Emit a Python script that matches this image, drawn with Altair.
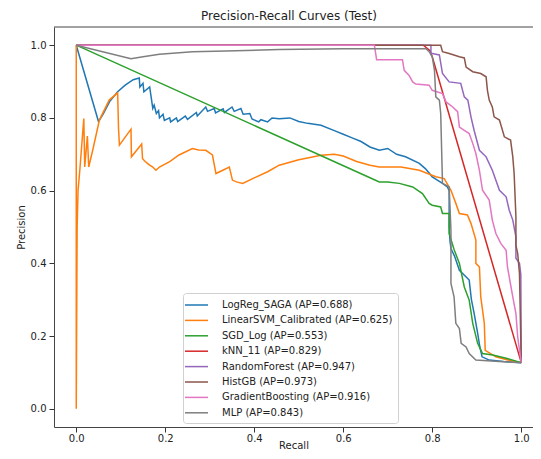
import altair as alt
import pandas as pd

models = [
    "LogReg_SAGA (AP=0.688)",
    "LinearSVM_Calibrated (AP=0.625)",
    "SGD_Log (AP=0.553)",
    "kNN_11 (AP=0.829)",
    "RandomForest (AP=0.947)",
    "HistGB (AP=0.973)",
    "GradientBoosting (AP=0.916)",
    "MLP (AP=0.843)",
]
colors = ["#1f77b4", "#ff7f0e", "#2ca02c", "#d62728",
          "#9467bd", "#8c564b", "#e377c2", "#7f7f7f"]

logreg_r = [0, 0.05, 0.06, 0.075, 0.093, 0.11, 0.128, 0.1416, 0.143, 0.150, 0.152, 0.165, 0.168, 0.172,
            0.175, 0.18, 0.185, 0.187, 0.195, 0.198, 0.21, 0.212, 0.225, 0.228, 0.245, 0.25, 0.27, 0.272,
            0.291, 0.295, 0.31, 0.313, 0.33, 0.333, 0.35, 0.355, 0.37, 0.375, 0.39, 0.395, 0.41, 0.415,
            0.43, 0.44, 0.456, 0.48, 0.50, 0.52, 0.55, 0.58, 0.60, 0.62, 0.64, 0.66, 0.681, 0.70, 0.72,
            0.74, 0.771, 0.785, 0.80, 0.823, 0.834, 0.838, 0.838, 0.84, 0.842, 0.85, 0.861, 0.87, 0.883,
            0.888, 0.894, 0.902, 0.907, 0.912, 0.928, 0.96, 1.0]
logreg_p = [1.0, 0.79, 0.81, 0.845, 0.872, 0.89, 0.905, 0.910, 0.885, 0.895, 0.872, 0.885, 0.86, 0.826,
            0.835, 0.812, 0.82, 0.80, 0.81, 0.793, 0.80, 0.789, 0.80, 0.79, 0.805, 0.796, 0.815, 0.805,
            0.830, 0.818, 0.826, 0.814, 0.825, 0.815, 0.83, 0.818, 0.826, 0.81, 0.812, 0.797, 0.789, 0.795,
            0.789, 0.80, 0.798, 0.80, 0.79, 0.785, 0.78, 0.765, 0.755, 0.745, 0.735, 0.72, 0.711, 0.716, 0.70,
            0.693, 0.675, 0.66, 0.638, 0.62, 0.61, 0.60, 0.50, 0.46, 0.441, 0.42, 0.381, 0.37, 0.354,
            0.30, 0.263, 0.208, 0.17, 0.143, 0.134, 0.13, 0.127]

svm_r = [0, 0, 0.002, 0.004, 0.008, 0.012, 0.017, 0.019, 0.025, 0.028, 0.037, 0.052, 0.074, 0.093, 0.095,
         0.097, 0.123, 0.124, 0.147, 0.149, 0.155, 0.160, 0.165, 0.172, 0.179, 0.187, 0.21, 0.231, 0.261,
         0.275, 0.291, 0.306, 0.314, 0.344, 0.351, 0.36, 0.374, 0.40, 0.43, 0.456, 0.50, 0.55, 0.58, 0.60,
         0.63, 0.66, 0.681, 0.73, 0.771, 0.808, 0.827, 0.842, 0.853, 0.861, 0.879, 0.887, 0.898, 0.898,
         0.906, 0.909, 0.917, 0.919, 0.943, 0.97, 1.0]
svm_p = [1.0, 0.0, 0.5, 0.6, 0.656, 0.72, 0.798, 0.665, 0.750, 0.665, 0.711, 0.794, 0.849, 0.869, 0.771,
         0.725, 0.769, 0.693, 0.728, 0.688, 0.68, 0.675, 0.67, 0.665, 0.656, 0.665, 0.68, 0.698, 0.716,
         0.712, 0.711, 0.698, 0.647, 0.665, 0.629, 0.624, 0.620, 0.635, 0.652, 0.670, 0.685, 0.697, 0.70, 0.695,
         0.68, 0.67, 0.665, 0.665, 0.656, 0.638, 0.633, 0.601, 0.565, 0.537, 0.533, 0.510, 0.464, 0.40,
         0.39, 0.308, 0.235, 0.161, 0.143, 0.134, 0.127]

sgd_r = [0, 0.67, 0.681, 0.70, 0.726, 0.756, 0.778, 0.793, 0.80, 0.819, 0.823, 0.838, 0.838, 0.849, 0.861,
         0.872, 0.883, 0.891, 0.902, 0.913, 0.936, 0.966, 1.0]
sgd_p = [1.0, 0.63, 0.624, 0.624, 0.620, 0.610, 0.592, 0.565, 0.56, 0.555, 0.537, 0.537, 0.482, 0.438, 0.40,
         0.335, 0.299, 0.235, 0.180, 0.152, 0.148, 0.139, 0.127]

knn_r = [0, 0.78, 0.795, 0.80, 1.0]
knn_p = [1.0, 1.0, 0.985, 0.968, 0.127]

rf_r = [0, 0.797, 0.797, 0.80, 0.816, 0.823, 0.838, 0.864, 0.872, 0.880, 0.887, 0.894, 0.906, 0.921, 0.935,
        0.951, 0.966, 0.973, 0.981, 0.988, 0.988, 0.996, 0.999, 1.0]
rf_p = [1.0, 1.0, 0.977, 0.977, 0.973, 0.922, 0.899, 0.895, 0.858, 0.849, 0.803, 0.766, 0.711, 0.693, 0.656,
        0.601, 0.583, 0.546, 0.519, 0.473, 0.414, 0.40, 0.37, 0.127]

hgb_r = [0, 0.819, 0.823, 0.838, 0.861, 0.872, 0.876, 0.891, 0.909, 0.921, 0.924, 0.928, 0.935, 0.939, 0.951,
         0.962, 0.976, 0.981, 0.984, 0.988, 0.988, 0.992, 0.996, 1.0]
hgb_p = [1.0, 1.0, 0.982, 0.977, 0.968, 0.965, 0.940, 0.927, 0.922, 0.913, 0.876, 0.849, 0.830, 0.803, 0.794,
         0.748, 0.739, 0.693, 0.647, 0.528, 0.45, 0.427, 0.372, 0.127]

gb_r = [0, 0.67, 0.675, 0.733, 0.737, 0.748, 0.756, 0.763, 0.793, 0.80, 0.823, 0.831, 0.846, 0.857, 0.861,
        0.872, 0.883, 0.891, 0.898, 0.906, 0.913, 0.928, 0.935, 0.943, 0.954, 0.966, 0.969, 0.977, 0.981,
        0.988, 0.992, 0.996, 1.0]
gb_p = [1.0, 1.0, 0.96, 0.96, 0.931, 0.917, 0.899, 0.893, 0.89, 0.876, 0.867, 0.844, 0.830, 0.817, 0.775,
        0.766, 0.757, 0.730, 0.702, 0.656, 0.601, 0.574, 0.519, 0.482, 0.455, 0.436, 0.39, 0.335, 0.308,
        0.262, 0.198, 0.161, 0.127]

mlp_r = [0, 0.123, 0.15, 0.187, 0.261, 0.336, 0.456, 0.6, 0.786, 0.793, 0.80, 0.805, 0.808, 0.816, 0.819,
         0.823, 0.831, 0.838, 0.842, 0.842, 0.849, 0.853, 0.861, 0.865, 0.876, 0.883, 0.898, 0.95, 1.0]
mlp_p = [1.0, 0.963, 0.968, 0.975, 0.982, 0.984, 0.988, 0.99, 0.99, 0.982, 0.968, 0.931, 0.858, 0.849, 0.812,
         0.62, 0.615, 0.61, 0.491, 0.345, 0.308, 0.235, 0.221, 0.180, 0.170, 0.152, 0.134, 0.13, 0.127]

series = [
    (models[0], logreg_r, logreg_p),
    (models[1], svm_r, svm_p),
    (models[2], sgd_r, sgd_p),
    (models[3], knn_r, knn_p),
    (models[4], rf_r, rf_p),
    (models[5], hgb_r, hgb_p),
    (models[6], gb_r, gb_p),
    (models[7], mlp_r, mlp_p),
]

rows = []
for name, rs, ps in series:
    for i, (r, p) in enumerate(zip(rs, ps)):
        rows.append({"model": name, "recall": r, "precision": p, "idx": i})
df = pd.DataFrame(rows)

ticks = [0.0, 0.2, 0.4, 0.6, 0.8, 1.0]
FONT = "DejaVu Sans"
TXT = "#222222"
FRAME = "#444444"
W, H = 479, 400

lines = alt.Chart(df).mark_line(strokeWidth=1.5, clip=True).encode(
    x=alt.X("recall:Q",
            scale=alt.Scale(domain=[-0.05, 1.0264], nice=False, zero=False),
            axis=alt.Axis(values=ticks, format=".1f", title="Recall", grid=False,
                          domain=True, domainColor=FRAME, domainWidth=1,
                          tickSize=5, tickColor="#333", labelPadding=1,
                          titleY=21.5, titleBaseline="alphabetic",
                          labelFont=FONT, labelFontSize=10, labelColor=TXT,
                          titleFont=FONT, titleFontSize=10, titleFontWeight="normal", titleColor=TXT)),
    y=alt.Y("precision:Q",
            scale=alt.Scale(domain=[-0.05, 1.05], nice=False, zero=False),
            axis=alt.Axis(values=ticks, format=".1f", title="Precision", grid=False,
                          domain=True, domainColor=FRAME, domainWidth=1,
                          tickSize=5, tickColor="#333", labelPadding=3, titlePadding=4,
                          labelFont=FONT, labelFontSize=10, labelColor=TXT,
                          titleFont=FONT, titleFontSize=10, titleFontWeight="normal", titleColor=TXT)),
    color=alt.Color("model:N",
                    scale=alt.Scale(domain=models, range=colors),
                    sort=models,
                    legend=alt.Legend(title=None, orient="none", legendX=129, legendY=266,
                                      symbolType="M-1.67,0H2.17", symbolSize=144, symbolStrokeWidth=1.5,
                                      labelFont=FONT, labelFontSize=10, labelColor=TXT,
                                      padding=5, rowPadding=3.4, labelOffset=20,
                                      fillColor="rgba(255,255,255,0.8)", strokeColor="#d0d0d0",
                                      cornerRadius=3, labelLimit=300)),
    order=alt.Order("idx:Q"),
)

frame_top = alt.Chart(pd.DataFrame({"f": [0]})).mark_rule(color=FRAME, strokeWidth=1).encode(
    x=alt.value(0), x2=alt.value(W), y=alt.value(0)
)

chart = alt.layer(lines, frame_top).properties(
    width=W,
    height=H,
    title=alt.TitleParams("Precision-Recall Curves (Test)", font=FONT, fontSize=12,
                          fontWeight="normal", color=TXT, offset=4, dx=-4.5, anchor="middle"),
    autosize=alt.AutoSizeParams(type="none"),
    padding={"left": 46, "top": 19, "right": 0, "bottom": 24},
).configure_view(stroke=None)

chart.save("out.html", embed_options={"renderer": "svg", "actions": False})
